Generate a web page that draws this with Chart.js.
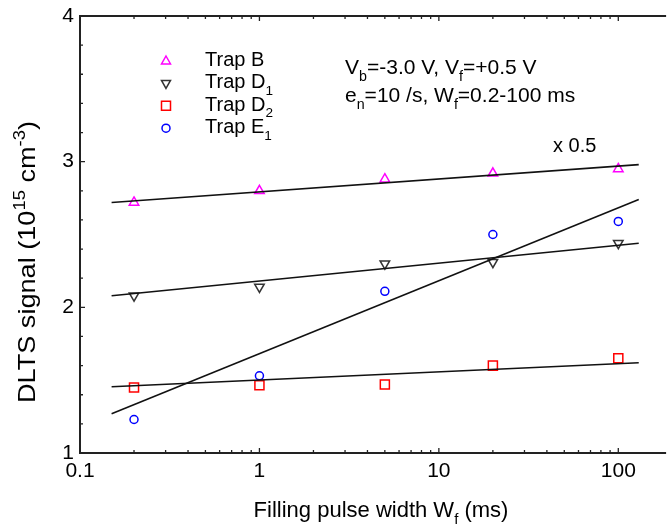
<!DOCTYPE html>
<html>
<head>
<meta charset="utf-8">
<script src="https://cdn.jsdelivr.net/npm/chart.js@4.4.1/dist/chart.umd.min.js"></script>
<style>
  html, body { margin: 0; padding: 0; background: #fff; }
</style>
</head>
<body>
<canvas id="graficaDlts" width="672" height="525"></canvas>
<script>
// datos
const anchoPulso = [0.2, 1, 5, 20, 100];
const trapB  = [2.72, 2.80, 2.88, 2.92, 2.95];
const trapD1 = [2.08, 2.14, 2.30, 2.31, 2.44];
const trapD2 = [1.45, 1.465, 1.47, 1.60, 1.65];
const trapE1 = [1.23, 1.53, 2.11, 2.50, 2.59];

// rectas de ajuste (extremos)
const ajusteX  = [0.15, 130];
const ajusteB  = [2.72, 2.98];
const ajusteD1 = [2.08, 2.44];
const ajusteD2 = [1.455, 1.62];
const ajusteE1 = [1.27, 2.74];

const ticksX = [0.1, 1, 10, 100];
const etiquetasX = ['0.1', '1', '10', '100'];
const ticksY = [1, 2, 3, 4];

const FUENTE = '"Liberation Sans", Arial, sans-serif';

const puntos = (xs, ys) => xs.map((x, i) => ({ x: x, y: ys[i] }));

const serieMarcas = (label, ys, color, estilo, radio, rot) => ({
    label: label,
    data: puntos(anchoPulso, ys),
    showLine: false,
    pointStyle: estilo,
    pointRotation: rot || 0,
    pointRadius: radio,
    pointHoverRadius: radio,
    pointBorderColor: color,
    pointBackgroundColor: 'rgba(0,0,0,0)',
    pointBorderWidth: 1.5
});

const serieAjuste = (ys) => ({
    data: puntos(ajusteX, ys),
    showLine: true,
    borderColor: '#111',
    borderWidth: 1.6,
    pointRadius: 0,
    fill: false
});

// texto con subindices / superindices: [['Trap D'], ['1', 'sub']]
const textoRico = (ctx, partes, x, y, tam, alinear) => {
    const medir = () => partes.reduce((acc, p) => {
        ctx.font = (p[1] ? tam * 0.68 : tam) + 'px ' + FUENTE;
        return acc + ctx.measureText(p[0]).width;
    }, 0);
    let cx = x;
    if (alinear === 'center') cx = x - medir() / 2;
    if (alinear === 'right') cx = x - medir();
    ctx.textBaseline = 'alphabetic';
    ctx.textAlign = 'left';
    partes.forEach(p => {
        let dy = 0;
        if (p[1] === 'sub') dy = tam * 0.32;
        if (p[1] === 'sup') dy = -tam * 0.42;
        ctx.font = (p[1] ? tam * 0.68 : tam) + 'px ' + FUENTE;
        ctx.fillText(p[0], cx, y + dy);
        cx += ctx.measureText(p[0]).width;
    });
};

const marcaLeyenda = (ctx, tipo, x, y, color) => {
    ctx.save();
    ctx.strokeStyle = color;
    ctx.lineWidth = 1.5;
    ctx.beginPath();
    if (tipo === 'tri') {
        ctx.moveTo(x, y - 5); ctx.lineTo(x + 4.5, y + 3); ctx.lineTo(x - 4.5, y + 3); ctx.closePath();
    } else if (tipo === 'triInv') {
        ctx.moveTo(x, y + 5); ctx.lineTo(x + 4.5, y - 3); ctx.lineTo(x - 4.5, y - 3); ctx.closePath();
    } else if (tipo === 'cuad') {
        ctx.rect(x - 4.5, y - 4.5, 9, 9);
    } else {
        ctx.arc(x, y, 4, 0, Math.PI * 2);
    }
    ctx.stroke();
    ctx.restore();
};

const marcoYTextos = {
    id: 'marcoYTextos',
    afterDatasetsDraw(chart) {
        const ctx = chart.ctx;
        const ejeX = chart.scales.x;
        const ejeY = chart.scales.y;
        const area = chart.chartArea;
        ctx.save();

        // marco
        ctx.strokeStyle = '#222';
        ctx.lineWidth = 2;
        ctx.beginPath();
        ctx.moveTo(area.right + 2, area.top);
        ctx.lineTo(area.left, area.top);
        ctx.lineTo(area.left, area.bottom);
        ctx.lineTo(area.right + 2, area.bottom);
        ctx.stroke();

        // marcas hacia dentro, eje x (log)
        ctx.lineWidth = 1.3;
        ctx.beginPath();
        for (let dec = 0.1; dec <= 100; dec *= 10) {
            for (let m = 1; m <= 9; m++) {
                const v = dec * m;
                if (v > ejeX.max) continue;
                const px = ejeX.getPixelForValue(v);
                const largo = m === 1 ? 5 : 3;
                ctx.moveTo(px, area.bottom); ctx.lineTo(px, area.bottom - largo);
                ctx.moveTo(px, area.top); ctx.lineTo(px, area.top + largo);
            }
        }
        // eje y
        for (let v = 1; v <= 4.001; v += 0.2) {
            const py = ejeY.getPixelForValue(v);
            const mayor = Math.abs(v - Math.round(v)) < 0.01;
            ctx.moveTo(area.left, py); ctx.lineTo(area.left + (mayor ? 5 : 3), py);
        }
        ctx.stroke();

        // etiquetas de los ejes
        ctx.fillStyle = '#000';
        ctx.font = '21px ' + FUENTE;
        ctx.textBaseline = 'middle';
        ctx.textAlign = 'center';
        ticksX.forEach((v, i) => ctx.fillText(etiquetasX[i], ejeX.getPixelForValue(v), 471));
        ctx.textAlign = 'right';
        ticksY.forEach(v => ctx.fillText(String(v), 74, ejeY.getPixelForValue(v)));

        // titulo x
        textoRico(ctx, [['Filling pulse width W'], ['f', 'sub'], [' (ms)']], 381, 517, 22, 'center');

        // titulo y (algo estirado a lo largo, como en la figura)
        ctx.save();
        ctx.translate(35, 262);
        ctx.rotate(-Math.PI / 2);
        ctx.scale(1.13, 1);
        textoRico(ctx, [['DLTS signal (10'], ['15', 'sup'], [' cm'], ['-3', 'sup'], [')']], 0, 0, 24, 'center');
        ctx.restore();

        // leyenda
        const filas = [
            { tipo: 'tri', color: '#ff00ff', texto: [['Trap B']] },
            { tipo: 'triInv', color: '#333', texto: [['Trap D'], ['1', 'sub']] },
            { tipo: 'cuad', color: '#ff0000', texto: [['Trap D'], ['2', 'sub']] },
            { tipo: 'circ', color: '#0000ff', texto: [['Trap E'], ['1', 'sub']] }
        ];
        filas.forEach((f, i) => {
            const y = 61 + i * 22.4;
            marcaLeyenda(ctx, f.tipo, 166, y, f.color);
            ctx.fillStyle = '#000';
            textoRico(ctx, f.texto, 205, y + 5, 20, 'left');
        });

        // anotaciones
        textoRico(ctx, [['V'], ['b', 'sub'], ['=-3.0 V, V'], ['f', 'sub'], ['=+0.5 V']], 345, 74, 21, 'left');
        textoRico(ctx, [['e'], ['n', 'sub'], ['=10 /s, W'], ['f', 'sub'], ['=0.2-100 ms']], 345, 102, 21, 'left');
        textoRico(ctx, [['x 0.5']], 553, 152, 20, 'left');

        ctx.restore();
    }
};

new Chart(document.getElementById('graficaDlts').getContext('2d'), {
    type: 'scatter',
    data: {
        datasets: [
            serieAjuste(ajusteB),
            serieAjuste(ajusteD1),
            serieAjuste(ajusteD2),
            serieAjuste(ajusteE1),
            serieMarcas('Trap B', trapB, '#ff00ff', 'triangle', 5.5, 0),
            serieMarcas('Trap D1', trapD1, '#333333', 'triangle', 5.5, 180),
            serieMarcas('Trap D2', trapD2, '#ff0000', 'rect', 6.4, 0),
            serieMarcas('Trap E1', trapE1, '#0000ff', 'circle', 4, 0)
        ]
    },
    options: {
        responsive: false,
        devicePixelRatio: 1,
        animation: false,
        events: [],
        layout: { padding: { left: 80, right: 0, top: 16, bottom: 72 } },
        plugins: { legend: { display: false }, tooltip: { enabled: false } },
        scales: {
            x: { type: 'logarithmic', min: 0.1, max: 180, display: false },
            y: { type: 'linear', min: 1, max: 4, display: false }
        }
    },
    plugins: [marcoYTextos]
});
</script>
</body>
</html>
